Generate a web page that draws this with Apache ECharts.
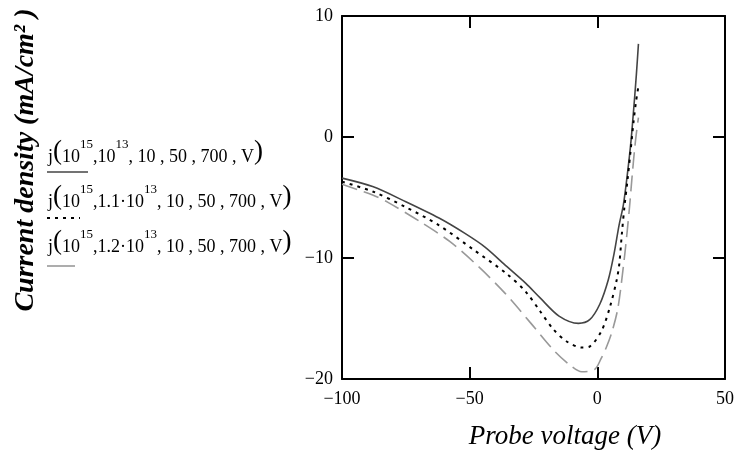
<!DOCTYPE html>
<html>
<head>
<meta charset="utf-8">
<script src="https://cdn.jsdelivr.net/npm/echarts@6/dist/echarts.min.js"></script>
<style>html,body{margin:0;padding:0;background:#fff}#c{width:738px;height:455px}</style>
</head>
<body>
<div id="c"></div>
<script>
// Probe voltage (V) and current density (mA/cm^2)
const vSolid = [-100, -88, -75, -62, -52, -44, -35.5, -28, -22.4, -15, -7.4, -3, 1, 4.3, 6.5, 8.5, 10.2, 11.8, 13.2, 14.5, 15.3, 16.1];
const jSolid = [-3.4, -4.1, -5.35, -6.7, -7.95, -9.1, -10.7, -12.1, -13.3, -14.8, -15.4, -15.1, -13.8, -11.8, -9.7, -7.3, -5.6, -3.0, -0.3, 3.0, 5.2, 7.7];

const vDash = [-100, -88, -75, -62, -48.6, -35.5, -28, -22.4, -17.2, -12, -6.1, -2.9, 1.7, 5.0, 7.6, 8.6, 9.6, 10.6, 11.8, 13, 14.2, 15.2, 16.1];
const jDash = [-3.7, -4.5, -5.8, -7.3, -9.3, -11.3, -12.8, -14.4, -15.9, -16.9, -17.4, -17.3, -16.0, -14.0, -11.8, -10.5, -8.0, -5.8, -3.6, -1.2, 1.3, 3.0, 4.2];

const vGray = [-100, -88, -82, -69.4, -57.7, -46.6, -36.2, -26.4, -17.2, -11, -6.1, -1, 1.5, 3.5, 5.6, 8.0, 10.2, 11.5, 12.6, 13.6, 14.6, 15.4, 16.1];
const jGray = [-3.9, -4.8, -5.4, -7.0, -8.65, -10.7, -12.9, -15.3, -17.6, -18.8, -19.4, -19.2, -18.3, -17.4, -16.2, -14.2, -10.7, -8.2, -5.8, -3.3, -1.0, 0.5, 1.6];

const xTicks = [-100, -50, 0, 50];
const yTicks = [-20, -10, 0, 10];

const seriesNames = [
  'j(10^15, 10^13, 10, 50, 700, V)',
  'j(10^15, 1.1·10^13, 10, 50, 700, V)',
  'j(10^15, 1.2·10^13, 10, 50, 700, V)'
];

const pairs = (xs, ys) => xs.map((x, i) => [x, ys[i]]);
const fmtMinus = v => String(v).replace('-', '\u2212');
const SERIF = '"Liberation Serif", "DejaVu Serif", serif';

const chart = echarts.init(document.getElementById('c'), null, {renderer: 'canvas'});

const axisLine = {show: true, onZero: false, lineStyle: {color: '#000', width: 2}};
const axisTick = {show: true, inside: true, length: 12, lineStyle: {color: '#000', width: 2}};

const richLegend = {
  b: {fontFamily: SERIF, fontSize: 18, color: '#000', verticalAlign: 'bottom', lineHeight: 28},
  p: {fontFamily: SERIF, fontSize: 27, color: '#000', lineHeight: 28},
  s: {fontFamily: SERIF, fontSize: 13, color: '#000', verticalAlign: 'top', lineHeight: 28}
};

function legendText(mid, x, y) {
  return {
    type: 'text', x: x, y: y,
    style: {
      text: '{b|j}{p|(}{b|10}{s|15}{b|,' + mid + '10}{s|13}{b|, 10 , 50 , 700 , V}{p|)}',
      rich: richLegend,
      align: 'left', verticalAlign: 'middle'
    }
  };
}

chart.setOption({
  backgroundColor: '#fff',
  animation: false,
  grid: {left: 342, right: 13, top: 16, bottom: 76, containLabel: false},
  xAxis: [{
    type: 'value', min: -100, max: 50, interval: 50, position: 'bottom',
    axisLine: axisLine, axisTick: axisTick, splitLine: {show: false},
    axisLabel: {show: true, margin: 11, fontFamily: SERIF, fontSize: 18, color: '#000', formatter: fmtMinus}
  }, {
    type: 'value', min: -100, max: 50, interval: 50, position: 'top',
    axisLine: axisLine, axisTick: axisTick, splitLine: {show: false}, axisLabel: {show: false}
  }],
  yAxis: [{
    type: 'value', min: -20, max: 10, interval: 10, position: 'left',
    axisLine: axisLine, axisTick: axisTick, splitLine: {show: false},
    axisLabel: {show: true, margin: 9, fontFamily: SERIF, fontSize: 18, color: '#000', formatter: fmtMinus, padding: [7, 0, 0, 0]}
  }, {
    type: 'value', min: -20, max: 10, interval: 10, position: 'right',
    axisLine: axisLine, axisTick: axisTick, splitLine: {show: false}, axisLabel: {show: false}
  }],
  series: [{
    name: seriesNames[0], type: 'line', data: pairs(vSolid, jSolid), showSymbol: false, smooth: 0.3,
    lineStyle: {color: '#444', width: 1.6, type: 'solid'}
  }, {
    name: seriesNames[1], type: 'line', data: pairs(vDash, jDash), showSymbol: false, smooth: 0.3,
    lineStyle: {color: '#000', width: 2, type: [3, 5]}
  }, {
    name: seriesNames[2], type: 'line', data: pairs(vGray, jGray), showSymbol: false, smooth: 0.3,
    lineStyle: {color: '#999', width: 1.6, type: [16, 7]}
  }],
  graphic: [
    {
      type: 'text', x: 26, y: 160, rotation: Math.PI / 2,
      style: {
        text: 'Current density (mA/cm\u00B2 )',
        font: 'italic bold 28px ' + SERIF,
        fill: '#000', align: 'center', verticalAlign: 'middle'
      }
    },
    {
      type: 'text', x: 565, y: 437,
      style: {
        text: 'Probe voltage (V)',
        font: 'italic 27px ' + SERIF,
        fill: '#000', align: 'center', verticalAlign: 'middle'
      }
    },
    legendText('', 48, 152),
    {type: 'line', shape: {x1: 47, y1: 172, x2: 88, y2: 172}, style: {stroke: '#444', lineWidth: 1.6}},
    legendText('1.1\u00B7', 48, 197),
    {type: 'line', shape: {x1: 47, y1: 218, x2: 80, y2: 218}, style: {stroke: '#000', lineWidth: 2, lineDash: [3, 5]}},
    legendText('1.2\u00B7', 48, 242),
    {type: 'line', shape: {x1: 47, y1: 266, x2: 75, y2: 266}, style: {stroke: '#999', lineWidth: 1.6}}
  ]
});
</script>
</body>
</html>
